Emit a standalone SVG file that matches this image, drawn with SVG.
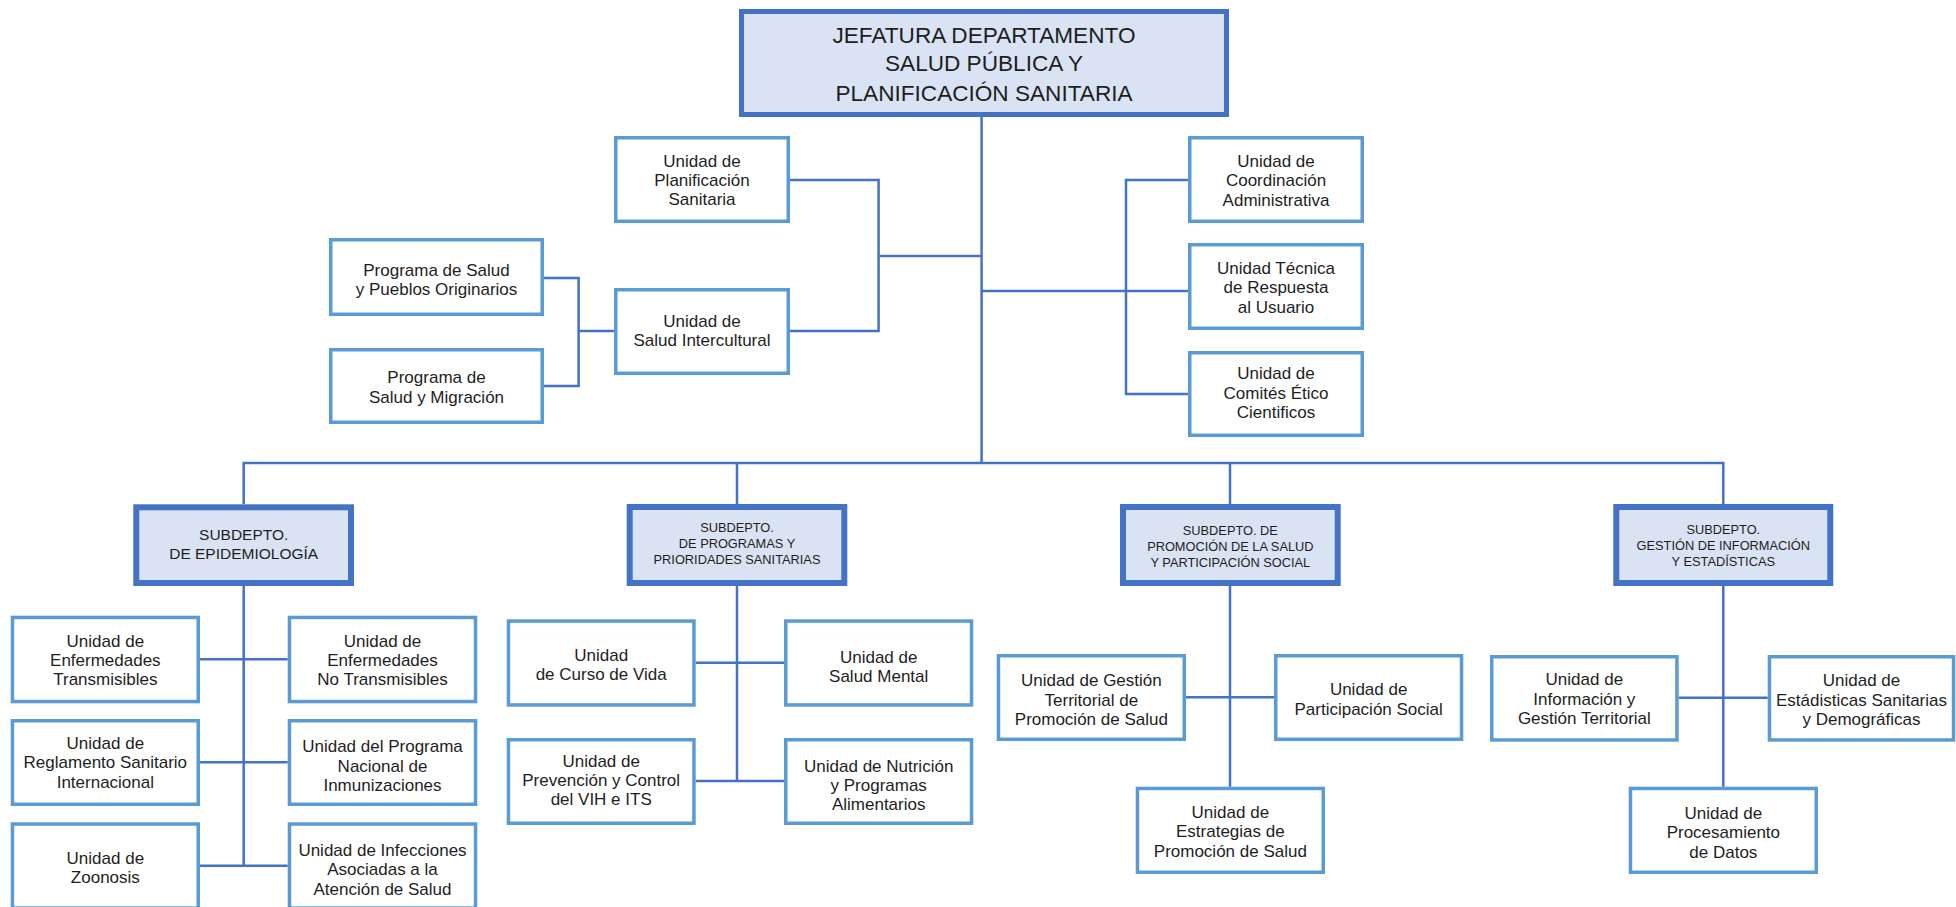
<svg xmlns="http://www.w3.org/2000/svg" width="1956" height="907" viewBox="0 0 1956 907">
<style>
.unit{fill:#ffffff;stroke:#5B9BD5;stroke-width:3.5}
.sub{fill:#DAE3F3;stroke:#4472C4;stroke-width:6}
.top{fill:#DAE3F3;stroke:#4472C4;stroke-width:5}
.conn{fill:none;stroke:#4472C4;stroke-width:2.5}
text{font-family:"Liberation Sans",Arial,sans-serif;fill:#1e1e1e;text-anchor:middle}
.ut{font-size:17px}
.st{font-size:12.8px}
.se{font-size:15.5px}
.tt{font-size:22.6px}
</style>
<rect width="1956" height="907" fill="#ffffff"/>
<g id="connectors">
<path class="conn" d="M981.6 117V463"/>
<path class="conn" d="M790 180H878.6V331H790M878.6 256H981.6"/>
<path class="conn" d="M544 278H578.6V386H544M578.6 331H614"/>
<path class="conn" d="M1188 180H1126V394H1188M981.6 291H1188"/>
<path class="conn" d="M243.7 504V463H1723.3V504M737 463V504M1230 463V504"/>
<path class="conn" d="M243.7 586V865.7M200 659.3H287.7M200 762.3H287.7M200 865.7H287.7"/>
<path class="conn" d="M737 586V781M695.7 662.7H784M695.7 781H784"/>
<path class="conn" d="M1230 586V786.7M1186 697.3H1274"/>
<path class="conn" d="M1723.3 586V786.7M1678.7 697.7H1767.7"/>
</g>
<g id="jefatura">
<rect class="top" x="741.5" y="11.5" width="485" height="103"/>
<text class="tt"><tspan x="984" y="42.8">JEFATURA DEPARTAMENTO</tspan><tspan x="984" y="71.4">SALUD PÚBLICA Y</tspan><tspan x="984" y="100.8">PLANIFICACIÓN SANITARIA</tspan></text>
</g>
<g id="planificacion">
<rect class="unit" x="615.75" y="137.75" width="172.5" height="83.5"/>
<text class="ut"><tspan x="702" y="166.7">Unidad de</tspan><tspan x="702" y="186">Planificación</tspan><tspan x="702" y="205.3">Sanitaria</tspan></text>
</g>
<g id="intercultural">
<rect class="unit" x="615.75" y="289.75" width="172.5" height="83.5"/>
<text class="ut"><tspan x="702" y="326.8">Unidad de</tspan><tspan x="702" y="346">Salud Intercultural</tspan></text>
</g>
<g id="pueblos">
<rect class="unit" x="330.75" y="239.75" width="211.5" height="74.5"/>
<text class="ut"><tspan x="436.5" y="275.5">Programa de Salud</tspan><tspan x="436.5" y="294.8">y Pueblos Originarios</tspan></text>
</g>
<g id="migracion">
<rect class="unit" x="330.75" y="349.75" width="211.5" height="72.5"/>
<text class="ut"><tspan x="436.5" y="383.2">Programa de</tspan><tspan x="436.5" y="402.5">Salud y Migración</tspan></text>
</g>
<g id="coordinacion">
<rect class="unit" x="1189.75" y="137.75" width="172.5" height="83.5"/>
<text class="ut"><tspan x="1276" y="166.5">Unidad de</tspan><tspan x="1276" y="185.8">Coordinación</tspan><tspan x="1276" y="205.5">Administrativa</tspan></text>
</g>
<g id="tecnica">
<rect class="unit" x="1189.75" y="244.75" width="172.5" height="83.5"/>
<text class="ut"><tspan x="1276" y="273.8">Unidad Técnica</tspan><tspan x="1276" y="293.2">de Respuesta</tspan><tspan x="1276" y="312.5">al Usuario</tspan></text>
</g>
<g id="comites">
<rect class="unit" x="1189.75" y="352.75" width="172.5" height="82.5"/>
<text class="ut"><tspan x="1276" y="379.2">Unidad de</tspan><tspan x="1276" y="398.5">Comités Ético</tspan><tspan x="1276" y="417.8">Cientificos</tspan></text>
</g>
<g id="sub-epidemiologia">
<rect class="sub" x="136.3" y="507.3" width="214.7" height="75.7"/>
<text class="se"><tspan x="243.7" y="539.5">SUBDEPTO.</tspan><tspan x="243.7" y="558.8">DE EPIDEMIOLOGÍA</tspan></text>
</g>
<g id="sub-programas">
<rect class="sub" x="629.7" y="507" width="214.6" height="76"/>
<text class="st"><tspan x="737" y="531.9">SUBDEPTO.</tspan><tspan x="737" y="547.9">DE PROGRAMAS Y</tspan><tspan x="737" y="563.9">PRIORIDADES SANITARIAS</tspan></text>
</g>
<g id="sub-promocion">
<rect class="sub" x="1123" y="507" width="214.7" height="76"/>
<text class="st"><tspan x="1230.35" y="534.6">SUBDEPTO. DE</tspan><tspan x="1230.35" y="550.6">PROMOCIÓN DE LA SALUD</tspan><tspan x="1230.35" y="566.9">Y PARTICIPACIÓN SOCIAL</tspan></text>
</g>
<g id="sub-gestion">
<rect class="sub" x="1616.3" y="507" width="214" height="76"/>
<text class="st"><tspan x="1723.3" y="533.9">SUBDEPTO.</tspan><tspan x="1723.3" y="549.9">GESTIÓN DE INFORMACIÓN</tspan><tspan x="1723.3" y="565.9">Y ESTADÍSTICAS</tspan></text>
</g>
<g id="transmisibles">
<rect class="unit" x="12.45" y="617.45" width="185.8" height="84.1"/>
<text class="ut"><tspan x="105.35" y="646.5">Unidad de</tspan><tspan x="105.35" y="665.8">Enfermedades</tspan><tspan x="105.35" y="685.2">Transmisibles</tspan></text>
</g>
<g id="no-transmisibles">
<rect class="unit" x="289.45" y="617.45" width="186.1" height="84.1"/>
<text class="ut"><tspan x="382.5" y="646.5">Unidad de</tspan><tspan x="382.5" y="665.8">Enfermedades</tspan><tspan x="382.5" y="685.2">No Transmisibles</tspan></text>
</g>
<g id="reglamento">
<rect class="unit" x="12.45" y="720.75" width="185.8" height="83.5"/>
<text class="ut"><tspan x="105.35" y="748.8">Unidad de</tspan><tspan x="105.35" y="768.2">Reglamento Sanitario</tspan><tspan x="105.35" y="787.5">Internacional</tspan></text>
</g>
<g id="inmunizaciones">
<rect class="unit" x="289.45" y="720.75" width="186.1" height="83.5"/>
<text class="ut"><tspan x="382.5" y="752.2">Unidad del Programa</tspan><tspan x="382.5" y="771.5">Nacional de</tspan><tspan x="382.5" y="790.8">Inmunizaciones</tspan></text>
</g>
<g id="zoonosis">
<rect class="unit" x="12.45" y="824.05" width="185.8" height="84"/>
<text class="ut"><tspan x="105.35" y="863.5">Unidad de</tspan><tspan x="105.35" y="882.8">Zoonosis</tspan></text>
</g>
<g id="infecciones">
<rect class="unit" x="289.45" y="824.05" width="186.1" height="84"/>
<text class="ut"><tspan x="382.5" y="855.8">Unidad de Infecciones</tspan><tspan x="382.5" y="875.2">Asociadas a la</tspan><tspan x="382.5" y="894.5">Atención de Salud</tspan></text>
</g>
<g id="curso-vida">
<rect class="unit" x="508.45" y="621.05" width="185.5" height="83.9"/>
<text class="ut"><tspan x="601.2" y="660.5">Unidad</tspan><tspan x="601.2" y="679.8">de Curso de Vida</tspan></text>
</g>
<g id="salud-mental">
<rect class="unit" x="785.75" y="621.05" width="185.8" height="83.9"/>
<text class="ut"><tspan x="878.7" y="662.5">Unidad de</tspan><tspan x="878.7" y="681.8">Salud Mental</tspan></text>
</g>
<g id="prevencion">
<rect class="unit" x="508.45" y="739.75" width="185.5" height="83.5"/>
<text class="ut"><tspan x="601.2" y="766.5">Unidad de</tspan><tspan x="601.2" y="785.8">Prevención y Control</tspan><tspan x="601.2" y="805.2">del VIH e ITS</tspan></text>
</g>
<g id="nutricion">
<rect class="unit" x="785.75" y="739.75" width="185.8" height="83.5"/>
<text class="ut"><tspan x="878.7" y="771.5">Unidad de Nutrición</tspan><tspan x="878.7" y="790.8">y Programas</tspan><tspan x="878.7" y="810.2">Alimentarios</tspan></text>
</g>
<g id="gestion-territorial">
<rect class="unit" x="998.45" y="655.75" width="185.8" height="83.5"/>
<text class="ut"><tspan x="1091.35" y="685.8">Unidad de Gestión</tspan><tspan x="1091.35" y="705.5">Territorial de</tspan><tspan x="1091.35" y="724.8">Promoción de Salud</tspan></text>
</g>
<g id="participacion">
<rect class="unit" x="1275.75" y="655.75" width="185.8" height="83.5"/>
<text class="ut"><tspan x="1368.65" y="695.2">Unidad de</tspan><tspan x="1368.65" y="714.5">Participación Social</tspan></text>
</g>
<g id="estrategias">
<rect class="unit" x="1137.45" y="788.45" width="185.8" height="83.8"/>
<text class="ut"><tspan x="1230.35" y="817.5">Unidad de</tspan><tspan x="1230.35" y="837.2">Estrategias de</tspan><tspan x="1230.35" y="856.5">Promoción de Salud</tspan></text>
</g>
<g id="informacion">
<rect class="unit" x="1491.75" y="656.75" width="185.2" height="83.2"/>
<text class="ut"><tspan x="1584.35" y="685.2">Unidad de</tspan><tspan x="1584.35" y="704.5">Información y</tspan><tspan x="1584.35" y="723.8">Gestión Territorial</tspan></text>
</g>
<g id="estadisticas">
<rect class="unit" x="1769.45" y="656.75" width="184.1" height="83.2"/>
<text class="ut"><tspan x="1861.5" y="686.2">Unidad de</tspan><tspan x="1861.5" y="705.5">Estádisticas Sanitarias</tspan><tspan x="1861.5" y="724.8">y Demográficas</tspan></text>
</g>
<g id="procesamiento">
<rect class="unit" x="1630.45" y="788.45" width="185.8" height="83.8"/>
<text class="ut"><tspan x="1723.35" y="818.8">Unidad de</tspan><tspan x="1723.35" y="838.2">Procesamiento</tspan><tspan x="1723.35" y="857.5">de Datos</tspan></text>
</g>
</svg>
